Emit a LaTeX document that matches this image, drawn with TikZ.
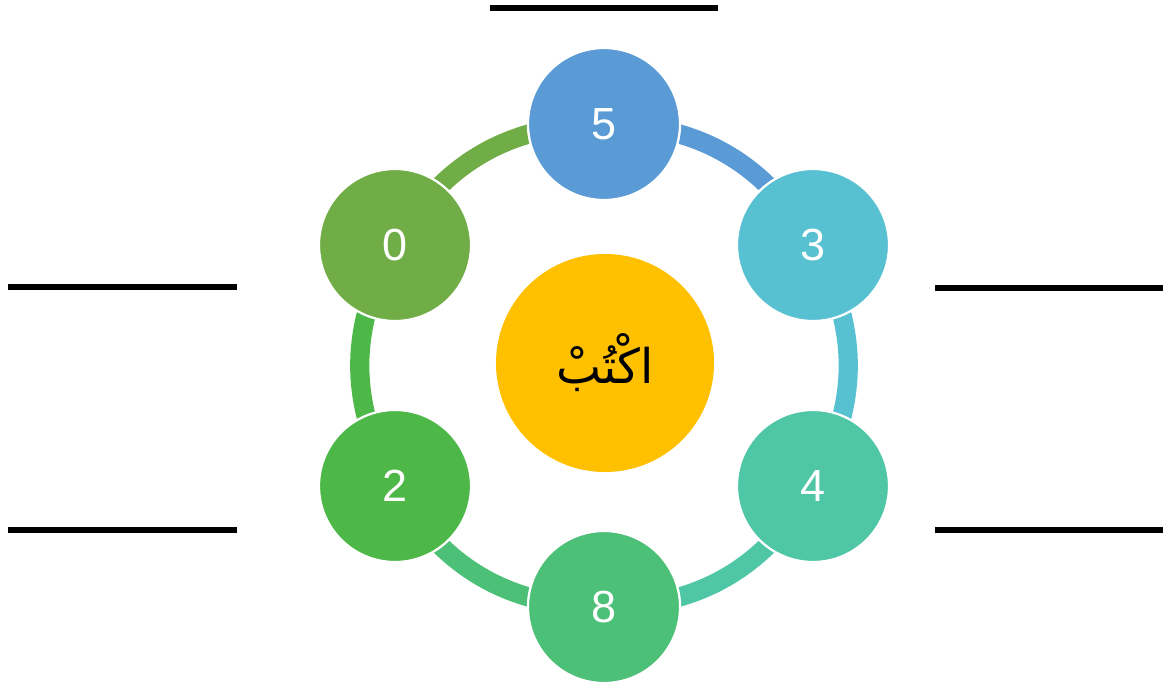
\documentclass[tikz,border=0pt]{standalone}
\usepackage{fontspec}
\setmainfont{Liberation Sans}
\newfontfamily\arabicfont[Script=Arabic]{DejaVu Sans}
\TeXXeTstate=1
\usetikzlibrary{backgrounds}
\definecolor{cfive}{HTML}{5B9BD5}
\definecolor{cthree}{HTML}{57C1D1}
\definecolor{cfour}{HTML}{4FC6A6}
\definecolor{ceight}{HTML}{4CC077}
\definecolor{ctwo}{HTML}{4DB847}
\definecolor{czero}{HTML}{70AD47}
\definecolor{cmid}{HTML}{FFC000}
\tikzstyle{num}=[shape=circle, draw=white, line width=1.6pt,
                  minimum size=3.8cm, inner sep=0pt, text=white,
                  font=\fontsize{32}{32}\selectfont]
\tikzstyle{mid}=[shape=circle, fill=cmid, minimum size=5.45cm,
                  inner sep=0pt, font=\fontsize{34}{34}\selectfont]
\tikzstyle{ring}=[bend left=30, line width=0.48cm]
\tikzstyle{blank}=[line width=4pt]

\begin{document}
\begin{tikzpicture}[x=0.025cm, y=0.025cm]
\useasboundingbox (0,0) rectangle (1166,687);

% nodes
\node[mid] (c) at (605,324) {\arabicfont\beginR اكْتُبْ\endR};
\node[num, fill=cfive] (n5) at (604,563) {5};
\node[num, fill=cthree] (n3) at (813,442) {3};
\node[num, fill=cfour] (n4) at (813,201) {4};
\node[num, fill=ceight] (n8) at (604,80) {8};
\node[num, fill=ctwo] (n2) at (395,201) {2};
\node[num, fill=czero] (n0) at (395,442) {0};

% paths
\begin{pgfonlayer}{background}
\path[ring, draw=cfive] (n5.center) edge (n3.center);
\path[ring, draw=cthree] (n3.center) edge (n4.center);
\path[ring, draw=cfour] (n4.center) edge (n8.center);
\path[ring, draw=ceight] (n8.center) edge (n2.center);
\path[ring, draw=ctwo] (n2.center) edge (n0.center);
\path[ring, draw=czero] (n0.center) edge (n5.center);
\end{pgfonlayer}

% answer lines
\draw[blank] (490,679) -- (718,679);
\draw[blank] (8,400) -- (237,400);
\draw[blank] (8,157) -- (237,157);
\draw[blank] (935,399) -- (1163,399);
\draw[blank] (935,157) -- (1163,157);

\end{tikzpicture}
\end{document}
